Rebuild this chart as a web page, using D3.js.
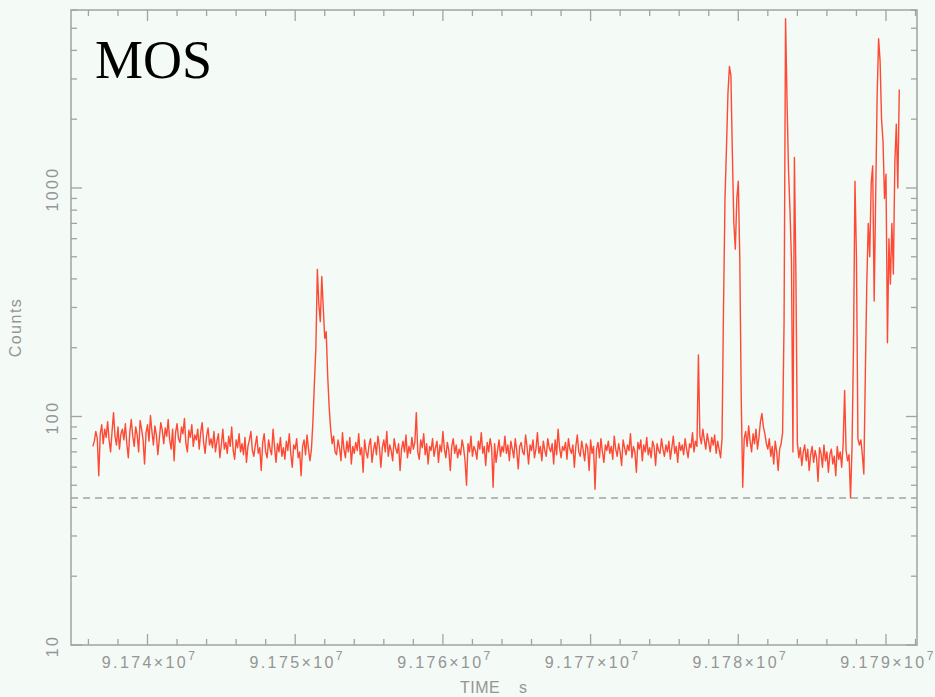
<!DOCTYPE html>
<html>
<head>
<meta charset="UTF-8">
<title>MOS light curve</title>
<script src="https://d3js.org/d3.v7.min.js"></script>
<style>
  body { margin: 0; background: #f4faf6; }
  svg { display: block; }
  .tick-label { font-family: 'Liberation Sans', Arial, sans-serif; font-size: 16px; fill: #959595; letter-spacing: 2.4px; }
</style>
</head>
<body>
<div id="chart"></div>
<script>
// light curve: 100 s bins starting at tStart
const tStart = 91736300;
const binSize = 100;
const counts = [
  74, 78, 86, 80, 55, 84, 92, 76, 88, 81,
  95, 79, 70, 86, 104, 82, 75, 90, 72, 84,
  88, 79, 93, 76, 66, 85, 97, 82, 74, 90,
  83, 70, 96, 88, 79, 62, 85, 92, 78, 101,
  86, 75, 91, 83, 68, 80, 94, 87, 76, 89,
  82, 97, 79, 72, 88, 64, 85, 93, 80, 77,
  90, 84, 98, 76, 70, 87, 81, 92, 74, 83,
  79, 88, 72, 85, 94, 77, 69, 82, 89, 75,
  80, 73, 86, 70, 78, 84, 66, 75, 88, 72,
  77, 69, 82, 74, 90, 71, 65, 79, 73, 84,
  70, 76, 68, 81, 63, 74, 79, 86, 71, 67,
  75, 82, 69, 73, 58, 77, 84, 70, 66, 79,
  72, 68, 88, 74, 63, 76, 70, 81, 67, 73,
  65, 78, 71, 84, 69, 60, 75, 72, 80, 66,
  70, 55, 74, 79, 68, 83, 72, 64, 72, 95,
  140, 200, 440, 310, 260, 410, 300, 220, 235, 150,
  110, 88, 76, 82, 70, 68, 79, 73, 64, 85,
  72, 66, 78, 70, 81, 62, 74, 69, 77, 71,
  84, 68, 73, 57, 79, 70, 66, 75, 80, 63,
  71, 77, 68, 82, 74, 60, 73, 79, 70, 86,
  67, 75, 71, 64, 80, 73, 69, 76, 58, 72,
  78, 70, 83, 66, 74, 69, 81, 72, 77, 104,
  70, 65, 79, 73, 84, 68, 76, 62, 74, 71,
  80, 67, 73, 78, 63, 75, 70, 86, 72, 66,
  77, 71, 58, 74, 80, 69, 75, 66, 72, 68,
  79, 73, 64, 50, 76, 70, 82, 67, 74, 71,
  65, 78, 72, 85, 69, 74, 61, 77, 70, 80,
  73, 49, 76, 63, 71, 79, 67, 74, 70, 82,
  69, 75, 64, 78, 72, 66, 80, 71, 59, 74,
  77, 70, 68, 83, 73, 62, 75, 71, 79, 66,
  72, 85, 69, 74, 64, 78, 71, 67, 80, 73,
  70, 76, 62, 79, 68, 88, 73, 66, 74, 71,
  77, 65, 80, 72, 69, 75, 60, 74, 83, 70,
  67, 78, 71, 64, 76, 73, 58, 79, 69, 74,
  48, 72, 77, 66, 80, 70, 63, 75, 71, 78,
  69, 74, 65, 82, 72, 67, 76, 70, 61, 79,
  73, 68, 75, 71, 84, 66, 74, 70, 57, 77,
  72, 79, 64, 75, 70, 81, 68, 73, 66, 78,
  74, 61, 76, 71, 69, 80, 72, 67, 75, 70,
  78, 65, 73, 82, 69, 74, 63, 77, 71, 75,
  68, 80, 72, 66, 76, 73, 85, 70, 78, 74,
  186, 82, 76, 88, 79, 72, 84, 77, 70, 81,
  75, 83, 69, 78, 72, 66, 80, 300, 900, 1500,
  2600, 3400, 3100, 1400, 700, 540, 900, 1070, 500, 120,
  49, 80, 86, 74, 91, 78, 70, 84, 76, 88,
  72, 81, 95, 103, 90, 84, 76, 72, 80, 67,
  74, 62, 78, 70, 58, 72, 76, 85, 260, 5500,
  2400, 1200, 800, 480, 70, 1360, 420, 77, 66, 73,
  61, 70, 75, 64, 72, 58, 68, 74, 63, 71,
  66, 52, 73, 69, 60, 75, 64, 70, 57, 68,
  72, 62, 67, 55, 74, 65, 70, 60, 76, 130,
  71, 64, 68, 44, 73, 200, 1070, 500, 80, 75,
  79, 68, 56, 150, 380, 700, 500, 1050, 1250, 320,
  900, 2500, 4500, 3600, 2000, 1600, 900, 1150, 210, 600,
  380, 700, 420, 1300, 1900, 1000, 2700
];
const threshold = 44;
const xMajor = [91740000, 91750000, 91760000, 91770000, 91780000, 91790000];
const xLabels = ["9.174", "9.175", "9.176", "9.177", "9.178", "9.179"];
const yMajor = [10, 100, 1000];
const yLabels = ["10", "100", "1000"];

const width = 935, height = 697;
const mLeft = 71, mRight = 917, mTop = 10, mBottom = 645;
const grey = "#a3a3a3";

const svg = d3.select("#chart").append("svg")
  .attr("width", width).attr("height", height);

svg.append("rect").attr("width", width).attr("height", height).attr("fill", "#f4faf6");

const x = d3.scaleLinear().domain([91734820, 91792100]).range([mLeft, mRight]);
const y = d3.scaleLog().domain([10, 6010]).range([mBottom, mTop]);

const points = counts.map((c, i) => ({ t: tStart + i * binSize, c: c }));

// minor ticks
const xMinor = d3.range(91736000, 91792100, 2000).filter(t => t % 10000 !== 0);
const yMinor = [];
[10, 100, 1000].forEach(d => { for (let k = 2; k <= 9; k++) if (d * k < 6010) yMinor.push(d * k); });

const ticks = svg.append("g").attr("stroke", grey).attr("stroke-width", 1.3);
xMajor.forEach(t => {
  ticks.append("line").attr("x1", x(t)).attr("x2", x(t)).attr("y1", mBottom).attr("y2", mBottom - 11);
  ticks.append("line").attr("x1", x(t)).attr("x2", x(t)).attr("y1", mTop).attr("y2", mTop + 11);
});
xMinor.forEach(t => {
  ticks.append("line").attr("x1", x(t)).attr("x2", x(t)).attr("y1", mBottom).attr("y2", mBottom - 6);
  ticks.append("line").attr("x1", x(t)).attr("x2", x(t)).attr("y1", mTop).attr("y2", mTop + 6);
});
yMajor.forEach(v => {
  ticks.append("line").attr("x1", mLeft).attr("x2", mLeft + 11).attr("y1", y(v)).attr("y2", y(v));
  ticks.append("line").attr("x1", mRight).attr("x2", mRight - 11).attr("y1", y(v)).attr("y2", y(v));
});
yMinor.forEach(v => {
  ticks.append("line").attr("x1", mLeft).attr("x2", mLeft + 6).attr("y1", y(v)).attr("y2", y(v));
  ticks.append("line").attr("x1", mRight).attr("x2", mRight - 6).attr("y1", y(v)).attr("y2", y(v));
});

// frame
svg.append("rect")
  .attr("x", mLeft).attr("y", mTop).attr("width", mRight - mLeft).attr("height", mBottom - mTop)
  .attr("fill", "none").attr("stroke", grey).attr("stroke-width", 1.5);

// threshold line
svg.append("line")
  .attr("x1", mLeft).attr("x2", mRight).attr("y1", y(threshold)).attr("y2", y(threshold))
  .attr("stroke", grey).attr("stroke-width", 1.4).attr("stroke-dasharray", "7,5");

// light curve
const line = d3.line().x(d => x(d.t)).y(d => y(d.c));
svg.append("path")
  .datum(points)
  .attr("fill", "none")
  .attr("stroke", "#ff2a12")
  .attr("stroke-width", 1.4)
  .attr("stroke-opacity", 0.85)
  .attr("stroke-linejoin", "round")
  .attr("d", line);

// x tick labels
xMajor.forEach((t, i) => {
  const txt = svg.append("text").attr("class", "tick-label")
    .attr("x", x(t) + 2).attr("y", 668).attr("text-anchor", "middle");
  txt.append("tspan").text(xLabels[i] + "×10");
  txt.append("tspan").attr("dy", -8).attr("font-size", 12).text("7");
});

// y tick labels
yMajor.forEach((v, i) => {
  svg.append("text").attr("class", "tick-label")
    .attr("transform", `translate(58,${y(v) + 1}) rotate(-90)`)
    .attr("text-anchor", "middle")
    .text(yLabels[i]);
});

// axis titles
svg.append("text").attr("class", "tick-label")
  .attr("transform", `translate(21,${(mTop + mBottom) / 2}) rotate(-90)`)
  .attr("text-anchor", "middle")
  .style("letter-spacing", "1.5px")
  .text("Counts");

const xTitle = svg.append("text").attr("class", "tick-label")
  .attr("y", 693)
  .style("letter-spacing", "0.5px");
xTitle.append("tspan").attr("x", 460).text("TIME");
xTitle.append("tspan").attr("x", 519).text("s");

svg.append("text")
  .attr("x", 95).attr("y", 78)
  .attr("font-family", "'Liberation Serif', 'Times New Roman', serif")
  .attr("font-size", 54)
  .attr("fill", "#000")
  .text("MOS");
</script>
</body>
</html>
